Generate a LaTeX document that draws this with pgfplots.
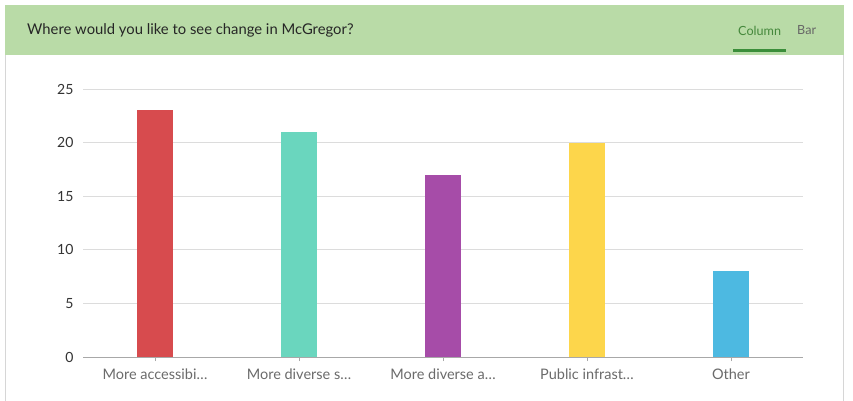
\documentclass[border=0pt]{standalone}
\usepackage{fontspec}
\setmainfont{Lato}
\usepackage{pgfplots}
\pgfplotsset{compat=1.18}
\definecolor{hdr}{HTML}{B9DBA7}
\definecolor{titlec}{HTML}{262626}
\definecolor{colgreen}{HTML}{45883C}
\definecolor{ulgreen}{HTML}{3B8E3A}
\definecolor{barc}{HTML}{666666}
\definecolor{cardb}{HTML}{D6D6D6}
\definecolor{gridc}{HTML}{DCDCDC}
\definecolor{axc}{HTML}{A8A8A8}
\definecolor{ylabc}{HTML}{333333}
\definecolor{xlabc}{HTML}{6B6B6B}
\definecolor{cred}{HTML}{D74B4E}
\definecolor{cteal}{HTML}{6AD6BE}
\definecolor{cpurp}{HTML}{A64CA8}
\definecolor{cyell}{HTML}{FDD64B}
\definecolor{cblue}{HTML}{4DB9E1}
\begin{document}
\begin{tikzpicture}[x=1pt,y=1pt]
\useasboundingbox (0,0) rectangle (853,400);
\fill[white] (0,0) rectangle (853,400);
\draw[cardb, line width=1pt] (5.5,-5) -- (5.5,394) -- (843.5,394) -- (843.5,-5);
\fill[hdr] (5,345) rectangle (844,394.5);
\node[anchor=west, inner sep=0pt, font=\fontsize{14.8}{17}\selectfont, text=titlec] at (27,370) {Where would you like to see change in McGregor?};
\node[anchor=west, inner sep=0pt, font=\fontsize{12.6}{15}\selectfont, text=colgreen] at (738,369.5) {Column};
\node[anchor=west, inner sep=0pt, font=\fontsize{12.6}{15}\selectfont, text=barc] at (797,369.5) {Bar};
\fill[ulgreen] (733,348) rectangle (786,351);
\begin{axis}[
  scale only axis, width=720pt, height=268pt,
  at={(83pt,43pt)}, anchor=south west,
  xmin=-0.5, xmax=4.5, ymin=0, ymax=25,
  axis line style={draw=none},
  ytick={0,5,10,15,20,25},
  ymajorgrids, grid style={draw=gridc, line width=0.8pt},
  xtick={0,1,2,3,4},
  xticklabels={More accessibi\ldots, More diverse s\ldots, More diverse a\ldots, Public infrast\ldots, Other},
  tick pos=left, tick align=outside,
  major tick length=4pt,
  xtick style={draw=axc, line width=0.8pt},
  ytick style={draw=none},
  xticklabel style={text=xlabc, font=\fontsize{14.5}{17}\selectfont, yshift=-4pt},
  yticklabel style={text=ylabc, font=\fontsize{14}{16}\selectfont, xshift=-2pt},
  /pgf/number format/assume math mode=true,
  ybar, bar width=36pt, bar shift=0pt,
  clip=false,
]
\addplot[fill=cred, draw=none] coordinates {(0,23)};
\addplot[fill=cteal, draw=none] coordinates {(1,21)};
\addplot[fill=cpurp, draw=none] coordinates {(2,17)};
\addplot[fill=cyell, draw=none] coordinates {(3,20)};
\addplot[fill=cblue, draw=none] coordinates {(4,8)};
\draw[axc, line width=1pt] (axis cs:-0.5,0) -- (axis cs:4.5,0);
\end{axis}
\end{tikzpicture}
\end{document}
